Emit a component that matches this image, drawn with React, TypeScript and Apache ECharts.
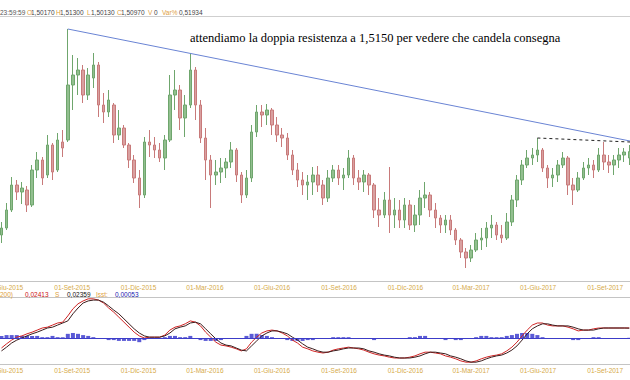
import React, { useEffect, useRef } from 'react';
import * as echarts from 'echarts';

// Weekly candles [open, close, low, high], first week starting Mon 25-May-2015
const ohlc: number[][] = [
  [1.4680, 1.4715, 1.4640, 1.4745], [1.4715, 1.4805, 1.4705, 1.4840], [1.4805, 1.4930, 1.4795, 1.4970],
  [1.4930, 1.4895, 1.4855, 1.4955], [1.4895, 1.4915, 1.4835, 1.4945], [1.4905, 1.4830, 1.4795, 1.4925],
  [1.4830, 1.5005, 1.4820, 1.5030], [1.5005, 1.5055, 1.4965, 1.5095], [1.5055, 1.4965, 1.4930, 1.5070],
  [1.4980, 1.5130, 1.4965, 1.5180], [1.5130, 1.4995, 1.4955, 1.5140], [1.5005, 1.5155, 1.4995, 1.5190],
  [1.5145, 1.5115, 1.5070, 1.5205], [1.5155, 1.5430, 1.5145, 1.5710], [1.5430, 1.5480, 1.5305, 1.5580],
  [1.5480, 1.5505, 1.5380, 1.5565], [1.5505, 1.5380, 1.5340, 1.5530], [1.5380, 1.5480, 1.5355, 1.5515],
  [1.5465, 1.5530, 1.5415, 1.5590], [1.5530, 1.5330, 1.5270, 1.5545], [1.5330, 1.5295, 1.5240, 1.5390],
  [1.5295, 1.5355, 1.5270, 1.5405], [1.5330, 1.5180, 1.5140, 1.5340], [1.5180, 1.5215, 1.5155, 1.5305],
  [1.5215, 1.5130, 1.5115, 1.5230], [1.5130, 1.5055, 1.5015, 1.5140], [1.5055, 1.4965, 1.4940, 1.5080],
  [1.4965, 1.4880, 1.4815, 1.5005], [1.4880, 1.5145, 1.4865, 1.5170], [1.5145, 1.5130, 1.5070, 1.5205],
  [1.5130, 1.5105, 1.5065, 1.5170], [1.5105, 1.5065, 1.5045, 1.5140], [1.5065, 1.5155, 1.5005, 1.5180],
  [1.5155, 1.5380, 1.5145, 1.5480], [1.5380, 1.5405, 1.5305, 1.5505], [1.5405, 1.5265, 1.5205, 1.5430],
  [1.5265, 1.5330, 1.5170, 1.5380], [1.5330, 1.5505, 1.5315, 1.5590], [1.5505, 1.5330, 1.5255, 1.5520],
  [1.5330, 1.5165, 1.5140, 1.5355], [1.5165, 1.5055, 1.4955, 1.5215], [1.5055, 1.4980, 1.4815, 1.5080],
  [1.4980, 1.4995, 1.4930, 1.5055], [1.4995, 1.5015, 1.4940, 1.5065], [1.5015, 1.5045, 1.4965, 1.5065],
  [1.5045, 1.5105, 1.5015, 1.5145], [1.5105, 1.4980, 1.4945, 1.5115], [1.4980, 1.4880, 1.4840, 1.4995],
  [1.4880, 1.4965, 1.4865, 1.5005], [1.4965, 1.5195, 1.4945, 1.5230], [1.5195, 1.5295, 1.5170, 1.5330],
  [1.5295, 1.5280, 1.5220, 1.5330], [1.5280, 1.5305, 1.5230, 1.5335], [1.5305, 1.5230, 1.5180, 1.5315],
  [1.5230, 1.5180, 1.5145, 1.5270], [1.5180, 1.5165, 1.5120, 1.5215], [1.5165, 1.5080, 1.5055, 1.5190],
  [1.5080, 1.5005, 1.4980, 1.5105], [1.5005, 1.4955, 1.4920, 1.5040], [1.4955, 1.4930, 1.4880, 1.4995],
  [1.4930, 1.4945, 1.4855, 1.4980], [1.4945, 1.4980, 1.4880, 1.5020], [1.4980, 1.4930, 1.4895, 1.5025],
  [1.4930, 1.4865, 1.4830, 1.4955], [1.4865, 1.4965, 1.4845, 1.5005], [1.4965, 1.5005, 1.4945, 1.5030],
  [1.5005, 1.4965, 1.4930, 1.5030], [1.4965, 1.4980, 1.4905, 1.5015], [1.4980, 1.5065, 1.4965, 1.5105],
  [1.5065, 1.4965, 1.4930, 1.5080], [1.4965, 1.4945, 1.4905, 1.5005], [1.4945, 1.4980, 1.4895, 1.5005],
  [1.4980, 1.4930, 1.4880, 1.4990], [1.4930, 1.4805, 1.4765, 1.4940], [1.4805, 1.4780, 1.4720, 1.4865],
  [1.4780, 1.4855, 1.4765, 1.4895], [1.4855, 1.4780, 1.4690, 1.5020], [1.4780, 1.4805, 1.4715, 1.4865],
  [1.4805, 1.4755, 1.4715, 1.4855], [1.4755, 1.4830, 1.4715, 1.4865], [1.4830, 1.4730, 1.4705, 1.4855],
  [1.4730, 1.4780, 1.4695, 1.4830], [1.4780, 1.4865, 1.4730, 1.4905], [1.4865, 1.4880, 1.4815, 1.4945],
  [1.4880, 1.4805, 1.4770, 1.4895], [1.4805, 1.4765, 1.4715, 1.4840], [1.4765, 1.4730, 1.4690, 1.4780],
  [1.4730, 1.4755, 1.4690, 1.4780], [1.4755, 1.4705, 1.4680, 1.4780], [1.4705, 1.4655, 1.4630, 1.4715],
  [1.4655, 1.4595, 1.4565, 1.4665], [1.4595, 1.4565, 1.4515, 1.4615], [1.4565, 1.4605, 1.4545, 1.4630],
  [1.4605, 1.4655, 1.4595, 1.4690], [1.4655, 1.4665, 1.4605, 1.4715], [1.4665, 1.4715, 1.4620, 1.4745],
  [1.4715, 1.4730, 1.4665, 1.4780], [1.4730, 1.4680, 1.4655, 1.4745], [1.4680, 1.4665, 1.4640, 1.4730],
  [1.4665, 1.4745, 1.4655, 1.4790], [1.4745, 1.4855, 1.4725, 1.4880], [1.4855, 1.4955, 1.4820, 1.4980],
  [1.4955, 1.5030, 1.4930, 1.5055], [1.5030, 1.5065, 1.5015, 1.5105], [1.5065, 1.5080, 1.5030, 1.5115],
  [1.5080, 1.5105, 1.5045, 1.5165], [1.5105, 1.5015, 1.4995, 1.5115], [1.5015, 1.4965, 1.4915, 1.5030],
  [1.4965, 1.4980, 1.4920, 1.5015], [1.4980, 1.5030, 1.4945, 1.5055], [1.5030, 1.5065, 1.5015, 1.5095],
  [1.5065, 1.4930, 1.4880, 1.5075], [1.4930, 1.4905, 1.4830, 1.4965], [1.4905, 1.4965, 1.4895, 1.4995],
  [1.4965, 1.5015, 1.4955, 1.5045], [1.5015, 1.5030, 1.4980, 1.5065], [1.5030, 1.5005, 1.4965, 1.5055],
  [1.5005, 1.5080, 1.4995, 1.5115], [1.5080, 1.5045, 1.5005, 1.5145], [1.5045, 1.5030, 1.4990, 1.5080],
  [1.5030, 1.5055, 1.4980, 1.5080], [1.5055, 1.5080, 1.5015, 1.5115], [1.5080, 1.5095, 1.5045, 1.5115],
  [1.5065, 1.5097, 1.5030, 1.5130],
];

const macdLine = [
  -0.024, -0.014, -0.005, 0.002, 0.005, 0.010, 0.014, 0.019, 0.024, 0.026,
  0.031, 0.036, 0.038, 0.053, 0.070, 0.082, 0.089, 0.094, 0.094, 0.091,
  0.084, 0.072, 0.062, 0.050, 0.038, 0.026, 0.014, 0.005, 0, 0.002,
  0.002, 0.002, 0.007, 0.019, 0.026, 0.029, 0.034, 0.041, 0.038, 0.029,
  0.014, 0.002, -0.010, -0.017, -0.019, -0.022, -0.026, -0.031, -0.026, -0.010,
  0.002, 0.012, 0.017, 0.019, 0.017, 0.012, 0.005, -0.005, -0.012, -0.022,
  -0.026, -0.031, -0.034, -0.036, -0.034, -0.029, -0.026, -0.024, -0.022, -0.024,
  -0.026, -0.029, -0.034, -0.038, -0.041, -0.043, -0.046, -0.048, -0.048, -0.048,
  -0.046, -0.043, -0.038, -0.034, -0.034, -0.036, -0.038, -0.043, -0.046, -0.050,
  -0.055, -0.058, -0.058, -0.055, -0.050, -0.046, -0.043, -0.041, -0.038, -0.031,
  -0.022, -0.010, 0.005, 0.019, 0.031, 0.036, 0.036, 0.031, 0.029, 0.029,
  0.029, 0.026, 0.022, 0.017, 0.019, 0.019, 0.022, 0.024, 0.024, 0.024,
  0.024, 0.024, 0.024, 0.02413,
];

const signalLine = [
  -0.031, -0.022, -0.012, -0.005, 0, 0.005, 0.010, 0.014, 0.019, 0.024,
  0.026, 0.031, 0.036, 0.041, 0.058, 0.072, 0.084, 0.089, 0.091, 0.091,
  0.086, 0.077, 0.067, 0.058, 0.046, 0.034, 0.022, 0.012, 0.005, 0.002,
  0.002, 0.002, 0.005, 0.012, 0.022, 0.026, 0.029, 0.036, 0.038, 0.034,
  0.022, 0.010, -0.002, -0.012, -0.017, -0.019, -0.024, -0.029, -0.031, -0.019,
  -0.007, 0.005, 0.012, 0.017, 0.017, 0.014, 0.010, 0.002, -0.005, -0.014,
  -0.022, -0.026, -0.031, -0.034, -0.034, -0.031, -0.029, -0.026, -0.024, -0.024,
  -0.024, -0.026, -0.031, -0.034, -0.038, -0.041, -0.043, -0.046, -0.048, -0.048,
  -0.048, -0.046, -0.043, -0.038, -0.034, -0.034, -0.036, -0.038, -0.043, -0.046,
  -0.050, -0.055, -0.058, -0.058, -0.055, -0.050, -0.046, -0.043, -0.041, -0.036,
  -0.029, -0.019, -0.005, 0.010, 0.022, 0.029, 0.034, 0.034, 0.031, 0.029,
  0.029, 0.029, 0.026, 0.022, 0.019, 0.019, 0.019, 0.022, 0.024, 0.024,
  0.024, 0.024, 0.024, 0.02359,
];

const histValues = [
  0.005, 0.007, 0.007, 0.007, 0.005, 0.005, 0.005, 0.005, 0.002, 0.002,
  0.005, 0.002, 0.002, 0.010, 0.012, 0.010, 0.007, 0.005, 0.002, 0,
  -0.002, -0.005, -0.005, -0.007, -0.007, -0.007, -0.007, -0.010, -0.005, 0,
  0, 0, 0.002, 0.005, 0.005, 0.002, 0.002, 0.005, 0, -0.005,
  -0.007, -0.007, -0.007, -0.005, -0.002, -0.002, -0.002, -0.002, 0.005, 0.010,
  0.010, 0.007, 0.005, 0.002, 0, -0.002, -0.005, -0.007, -0.007, -0.007,
  -0.005, -0.005, -0.002, -0.002, 0, 0.002, 0.002, 0.002, 0.002, 0,
  -0.002, -0.002, -0.002, -0.005, -0.002, -0.002, -0.002, -0.002, 0, 0,
  0.002, 0.002, 0.005, 0.005, 0, -0.002, -0.002, -0.005, -0.002, -0.005,
  -0.005, -0.002, 0, 0.002, 0.005, 0.005, 0.002, 0.002, 0.002, 0.005,
  0.007, 0.010, 0.012, 0.012, 0.010, 0.007, 0.002, -0.002, -0.002, 0,
  0, -0.002, -0.005, -0.005, 0, 0, 0.002, 0.002, 0, 0,
  0, 0, 0, 0.0005,
];

const tickDates = ['2015-06-01', '2015-09-01', '2015-12-01', '2016-03-01', '2016-06-01',
  '2016-09-01', '2016-12-01', '2017-03-01', '2017-06-01', '2017-09-01'];
const tickLabels = ['01-Giu-2015', '01-Set-2015', '01-Dic-2015', '01-Mar-2016', '01-Giu-2016',
  '01-Set-2016', '01-Dic-2016', '01-Mar-2017', '01-Giu-2017', '01-Set-2017'];

const trendEndPrice = 1.5150;      // blue trendline value at right edge
const resistanceEndPrice = 1.5145; // dashed line value at right edge
const spikeWeek = 13;
const resistanceWeek = 105;

const headerItems = [
  ['23:59:59', 0, '#555'], ['O', 27, '#e0a040'], ['1,50170', 31, '#444'],
  ['H', 56, '#e0a040'], ['1,51300', 60, '#444'], ['L', 87, '#e0a040'], ['1,50130', 91, '#444'],
  ['C', 117, '#e0a040'], ['1,50970', 121, '#444'], ['V', 148, '#e0a040'], ['0', 154, '#444'],
  ['Var%', 162, '#e0a040'], ['0,51934', 179, '#444'],
];
const macdLegend = [
  ['200)', 0, '#e0a040'], ['0,02413', 25, '#cc1010'], ['S', 55, '#e0a040'],
  ['0,02359', 67, '#111'], ['Isst:', 96, '#e0a040'], ['0,00053', 115, '#1a1ab0'],
];

const DAY = 86400000;
const FIRST_WED = Date.UTC(2015, 4, 27);
const X_MIN = Date.UTC(2015, 4, 25);
const X_MAX = Date.UTC(2017, 9, 5);

export default function App() {
  const ref = useRef<HTMLDivElement>(null);
  useEffect(() => {
    if (!ref.current) return;
    const chart = echarts.init(ref.current, null, { renderer: 'svg' });
    const times = ohlc.map((_, i) => FIRST_WED + i * 7 * DAY);
    const tickTimes = tickDates.map((d) => Date.parse(d + 'T00:00:00Z'));
    const fmt = (v: number) => {
      let best = -1;
      let bd = Infinity;
      tickTimes.forEach((t, k) => {
        const d = Math.abs(t - v);
        if (d < bd) { bd = d; best = k; }
      });
      return bd < 3 * DAY ? tickLabels[best] : '';
    };
    const xAxisBase = (gridIndex: number) => ({
      type: 'value',
      gridIndex,
      min: X_MIN,
      max: X_MAX,
      scale: true,
      axisLine: { show: true, onZero: false, lineStyle: { color: '#c4c4c4', width: 1 } },
      axisTick: { show: false },
      splitLine: { show: false },
      axisLabel: {
        customValues: tickTimes,
        formatter: fmt,
        fontSize: 6.5,
        fontFamily: '"Liberation Sans", Arial, sans-serif',
        color: '#d6aa48',
        margin: 3,
        hideOverlap: false,
        showMinLabel: true,
        showMaxLabel: true,
      },
    });
    const txt = (items: any[], y: number) =>
      items.map(([t, x, c]) => ({
        type: 'text',
        x,
        y,
        style: {
          text: t,
          fill: c,
          font: '6.5px "Liberation Sans", Arial, sans-serif',
          textVerticalAlign: 'middle',
        },
      }));
    chart.setOption({
      animation: false,
      backgroundColor: '#ffffff',
      grid: [
        { left: 0, right: 0, top: 18, height: 263, containLabel: false, outerBoundsMode: 'none' },
        { left: 0, right: 0, top: 298, height: 66, containLabel: false, outerBoundsMode: 'none' },
      ],
      xAxis: [xAxisBase(0), xAxisBase(1)],
      yAxis: [
        { type: 'value', gridIndex: 0, min: 1.445, max: 1.5765, show: false, splitLine: { show: false } },
        { type: 'value', gridIndex: 1, min: -0.0624, max: 0.096, show: false, splitLine: { show: false } },
      ],
      series: [
        {
          type: 'candlestick',
          xAxisIndex: 0,
          yAxisIndex: 0,
          barWidth: 3,
          data: times.map((t, i) => [t, ...ohlc[i]]),
          itemStyle: {
            color: '#92bf8f',
            color0: '#d9a0a0',
            borderColor: '#6fa66d',
            borderColor0: '#c87a7a',
            borderWidth: 1,
          },
        },
        {
          type: 'line',
          xAxisIndex: 0,
          yAxisIndex: 0,
          symbol: 'none',
          lineStyle: { color: '#6a84d4', width: 1 },
          data: [[times[spikeWeek], ohlc[spikeWeek][3]], [X_MAX, trendEndPrice]],
        },
        {
          type: 'line',
          xAxisIndex: 0,
          yAxisIndex: 0,
          symbol: 'none',
          lineStyle: { color: '#222', width: 1, type: [3, 3] },
          data: [[times[resistanceWeek], ohlc[resistanceWeek][3]], [X_MAX, resistanceEndPrice]],
        },
        {
          type: 'bar',
          xAxisIndex: 1,
          yAxisIndex: 1,
          barWidth: 4,
          data: times.map((t, i) => [t, histValues[i]]),
          itemStyle: { color: '#5a5ad6' },
          markLine: {
            silent: true,
            symbol: 'none',
            label: { show: false },
            lineStyle: { color: '#3c3cc8', width: 1, type: 'solid' },
            data: [{ yAxis: 0 }],
          },
        },
        {
          type: 'line',
          xAxisIndex: 1,
          yAxisIndex: 1,
          symbol: 'none',
          lineStyle: { color: '#d02424', width: 1 },
          data: times.map((t, i) => [t, macdLine[i]]),
        },
        {
          type: 'line',
          xAxisIndex: 1,
          yAxisIndex: 1,
          symbol: 'none',
          lineStyle: { color: '#3a1c1c', width: 1 },
          data: times.map((t, i) => [t, signalLine[i]]),
        },
      ],
      graphic: [
        { type: 'line', shape: { x1: 0, y1: 16.5, x2: 630, y2: 16.5 }, style: { stroke: '#cfcfcf', lineWidth: 1 } },
        { type: 'line', shape: { x1: 0, y1: 297.5, x2: 630, y2: 297.5 }, style: { stroke: '#c4c4c4', lineWidth: 1 } },
        ...txt(headerItems, 12),
        ...txt(macdLegend, 294),
        {
          type: 'text',
          x: 190,
          y: 31,
          style: {
            text: 'attendiamo la doppia resistenza a 1,5150 per vedere che candela consegna',
            fill: '#000',
            font: '12.5px "Liberation Serif", "Times New Roman", serif',
          },
        },
      ],
    });
    return () => chart.dispose();
  }, []);
  return (
    <div
      ref={ref}
      style={{ position: 'fixed', left: 0, top: 0, width: 630, height: 380, background: '#fff' }}
    />
  );
}
